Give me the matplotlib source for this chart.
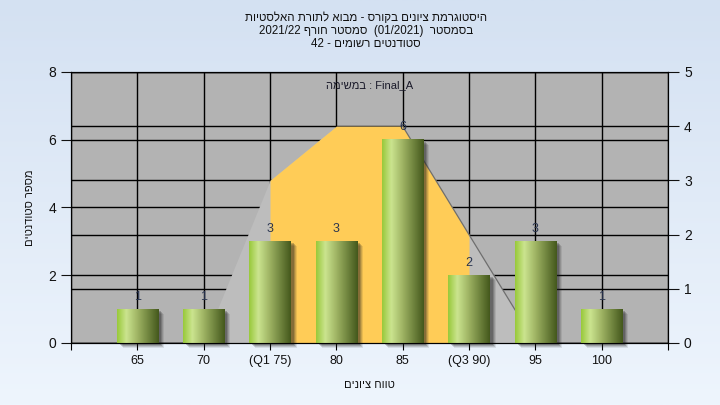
import re
import numpy as np
import matplotlib
matplotlib.use("Agg")
import matplotlib.pyplot as plt
from matplotlib.colors import LinearSegmentedColormap
from matplotlib.transforms import offset_copy

plt.rcParams['font.family'] = ['Liberation Sans', 'DejaVu Sans']

# נתונים
grades = ['65', '70', '(Q1 75)', '80', '85', '(Q3 90)', '95', '100']
counts = [1, 1, 3, 3, 6, 2, 3, 1]
curve = [0, 0, 3, 4, 4, 2, 0, 0]      # עקומה לפי הציר הימני
q1_idx, q3_idx = 2, 5
left_ticks = [0, 2, 4, 6, 8]
right_ticks = [0, 1, 2, 3, 4, 5]

title_lines = ['היסטוגרמת ציונים בקורס - מבוא לתורת האלסטיות',
               'בסמסטר  (01/2021)  סמסטר חורף 2021/22',
               'סטודנטים רשומים - 42']
task_name = 'Final_A'
task_word = 'במשימה'
xlabel = 'טווח ציונים'
ylabel = 'מספר סטודנטים'


def rtl(s):
    # matplotlib לא עושה bidi - הופכים ידנית
    r = s[::-1]
    r = re.sub(r'[0-9A-Za-z_/.]+', lambda m: m.group(0)[::-1], r)
    return r.translate(str.maketrans('()', ')('))


fig = plt.figure(figsize=(7.2, 4.05), dpi=100)

# רקע מדורג
bg = fig.add_axes([0, 0, 1, 1], zorder=-10)
grad = np.linspace(0, 1, 256).reshape(-1, 1)
bg_cmap = LinearSegmentedColormap.from_list('bg', ['#d4e1f2', '#eef5fd'])
bg.imshow(grad, aspect='auto', cmap=bg_cmap, extent=(0, 1, 0, 1))
bg.axis('off')

ax = fig.add_axes([71 / 720, 1 - 343 / 405, 597 / 720, 271 / 405])
ax2 = ax.twinx()
ax.set_facecolor('#b3b3b3')
ax2.patch.set_visible(False)

x = np.arange(1, len(grades) + 1)
ax.set_xlim(0, len(grades) + 1)
ax.set_ylim(left_ticks[0], left_ticks[-1])
ax2.set_ylim(right_ticks[0], right_ticks[-1])

# קווי רשת
ax.set_axisbelow(True)
ax.grid(True, color='black', linewidth=1)
ax.hlines(right_ticks, 0, len(grades) + 1, colors='black', linewidth=1,
          transform=ax2.transData, zorder=0.6)

# העקומה
ax.fill_between(x, 0, curve, color='#bdbdbd', linewidth=0,
                transform=ax2.transData, zorder=1)
ax.fill_between(x[q1_idx:q3_idx + 1], 0, curve[q1_idx:q3_idx + 1],
                color='#ffcc57', linewidth=0, transform=ax2.transData, zorder=1.1)
ax.plot(x[4:7], curve[4:7], color='#6e6e6e', linewidth=0.9,
        transform=ax2.transData, zorder=1.2)

# עמודות עם צל ומעבר צבע
bar_cmap = LinearSegmentedColormap.from_list(
    'bar', [(0, '#98c93a'), (0.22, '#cbe48f'), (0.5, '#9db262'), (1, '#44581c')])
w = 0.62
bar_grad = np.linspace(0, 1, 128).reshape(1, -1)
for i, (xi, c) in enumerate(zip(x, counts)):
    for k, a in [(6, 0.10), (5, 0.15), (4, 0.2), (3, 0.25)]:
        sh = offset_copy(ax.transData, fig=fig, x=k, y=-k + 1, units='dots')
        ax.add_patch(plt.Rectangle((xi - w / 2, 0), w, c, facecolor='#202020',
                                   alpha=a, linewidth=0, transform=sh,
                                   zorder=2, clip_on=False))
    ax.imshow(bar_grad, cmap=bar_cmap, aspect='auto',
              extent=(xi - w / 2, xi + w / 2, 0, c), zorder=3)
    ax.annotate(str(c), (xi, c), xytext=(0, 9), textcoords='offset points',
                ha='center', va='center', fontsize=9, color='#2a3550', zorder=4)

ax.set_xlim(0, len(grades) + 1)
ax.set_ylim(left_ticks[0], left_ticks[-1])

# צירים
ax.set_xticks(np.arange(0, len(grades) + 2))
ax.set_xticklabels([''] + grades + [''], fontsize=9, color='#111111')
ax.set_yticks(left_ticks)
ax.tick_params(axis='y', labelsize=10, length=7, direction='out', colors='#111111')
ax.tick_params(axis='x', length=5, direction='out', colors='black', labelcolor='#111111')
ax2.set_yticks(right_ticks)
ax2.tick_params(axis='y', labelsize=10, length=8, direction='out', colors='#111111')
for a in (ax, ax2):
    for s in a.spines.values():
        s.set_color('black')

ax.set_xlabel(rtl(xlabel), fontsize=8, color='#111111')
ax.xaxis.set_label_coords(0.5, -(380 - 343) / 271)
ax.set_ylabel(rtl(ylabel), fontsize=8, color='#111111', va='center')
ax.yaxis.set_label_coords(-(71 - 30) / 597, 0.5)

ax.text(0.5, 0.95, rtl(task_word) + ' : ' + task_name, transform=ax.transAxes,
        ha='center', va='center', fontsize=8, color='#1a1a2a')

for j, line in enumerate(title_lines):
    fig.text(0.508, 1 - (18 + 13 * j) / 405, rtl(line), ha='center', va='center',
             fontsize=8.3, color='#111111')

fig.savefig('out.png', dpi=100)
